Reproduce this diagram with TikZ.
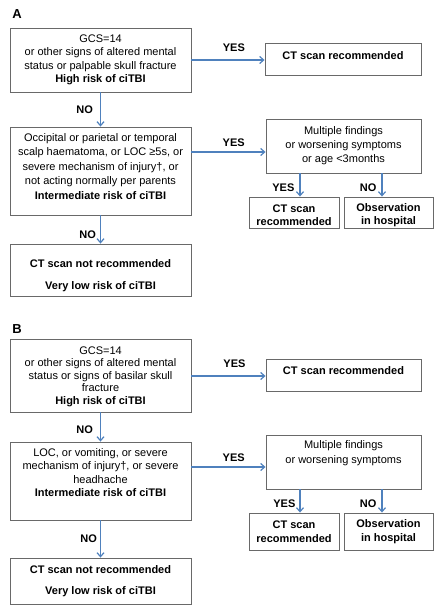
\documentclass[tikz,border=0pt]{standalone}
\usepackage{fontspec}
\setmainfont{Liberation Sans}
\usetikzlibrary{arrows.meta}
\definecolor{flowblue}{RGB}{79,129,189}
\definecolor{boxgray}{RGB}{105,105,105}
\begin{document}
\begin{tikzpicture}[x=1pt,y=-1pt,font=\fontsize{11}{13.5}\selectfont,
  box/.style={draw=boxgray,line width=.9pt,align=center,inner sep=0pt},
  sz/.style 2 args={minimum width=#1pt,minimum height=#2pt},
  arr/.style={draw=flowblue,line width=1.2pt,-{Straight Barb[length=4pt,width=7pt]}},
  lbl/.style={font=\fontsize{11}{13}\selectfont\bfseries,inner sep=0pt},
  panel/.style={font=\fontsize{13}{13}\selectfont\bfseries,inner sep=0pt}]
\useasboundingbox (0,0) rectangle (437,606);
% panel A
\node[panel] (pa) at (17,14) {A};
\node[box,sz={181}{64}] (a1) at (100.5,60) {GCS=14\\or other signs of altered mental\\status or palpable skull fracture\\\textbf{High risk of ciTBI}};
\node[box,sz={156}{32},text depth=7pt] (ar) at (343,59) {\textbf{CT scan recommended}};
\node[box,sz={181}{88},text depth=9pt,font=\fontsize{11}{14.5}\selectfont] (a2) at (100.5,171) {Occipital or parietal or temporal\\scalp haematoma, or LOC ≥5s, or\\severe mechanism of injury†, or\\not acting normally per parents\\\textbf{Intermediate risk of ciTBI}};
\node[box,sz={181}{52},text height=42pt] (a3) at (100.5,270) {\textbf{CT scan not recommended}\\[9pt]\textbf{Very low risk of ciTBI}};
\node[box,sz={155}{54},font=\fontsize{11}{14}\selectfont] (am) at (343.5,146) {Multiple findings\\or worsening symptoms\\or age <3months};
\node[box,sz={90}{31},text height=27pt,font=\fontsize{11}{13}\selectfont] (ay) at (294,212.5) {\textbf{CT scan}\\\textbf{recommended}};
\node[box,sz={89}{31},text height=27pt,font=\fontsize{11}{13}\selectfont] (an) at (388.5,212.5) {\textbf{Observation}\\\textbf{in hospital}};
\draw[arr] (a1.east) -- (a1.east -| ar.west) node[lbl,above=8pt,pos=.58] (ya1) {YES};
\draw[arr] (a1.south) -- (a2.north) node[lbl,left=7pt,pos=.5] (na1) {NO};
\draw[arr] ([yshift=19pt]a2.east) coordinate (pa2) -- (pa2 -| am.west) node[lbl,above=5pt,pos=.57] (ya2) {YES};
\draw[arr] (a2.south) -- (a3.north) node[lbl,left=4pt,pos=.68] (na2) {NO};
\draw[arr] ([xshift=6pt]ay.north |- am.south) -- ([xshift=6pt]ay.north) node[lbl,left=5pt,pos=.6] (ya3) {YES};
\draw[arr] ([xshift=-6.5pt]an.north |- am.south) -- ([xshift=-6.5pt]an.north) node[lbl,left=5pt,pos=.6] (na3) {NO};
% panel B
\node[panel] (pb) at (17,329) {B};
\node[box,sz={181}{73},text depth=0pt,font=\fontsize{11}{12.6}\selectfont] (b1) at (100.5,375.5) {GCS=14\\or other signs of altered mental\\status or signs of basilar skull\\fracture\\\textbf{High risk of ciTBI}};
\node[box,sz={155}{32},text depth=8pt] (br) at (343.5,375) {\textbf{CT scan recommended}};
\node[box,sz={181}{78},text depth=17pt,font=\fontsize{11}{13.2}\selectfont] (b2) at (100.5,481) {LOC, or vomiting, or severe\\mechanism of injury†, or severe\\headhache\\\textbf{Intermediate risk of ciTBI}};
\node[box,sz={181}{46}] (b3) at (100.5,581) {\textbf{CT scan not recommended}\\[8pt]\textbf{Very low risk of ciTBI}};
\node[box,sz={155}{54},text depth=20pt,font=\fontsize{11}{15.5}\selectfont] (bm) at (343.5,462) {Multiple findings\\or worsening symptoms};
\node[box,sz={90}{37},font=\fontsize{11}{14}\selectfont] (by) at (294,531.5) {\textbf{CT scan}\\\textbf{recommended}};
\node[box,sz={89}{37},font=\fontsize{11}{14}\selectfont] (bn) at (388.5,531.5) {\textbf{Observation}\\\textbf{in hospital}};
\draw[arr] ([yshift=-.5pt]b1.east) coordinate (pb1) -- (pb1 -| br.west) node[lbl,above=8pt,pos=.58] (yb1) {YES};
\draw[arr] (b1.south) -- (b2.north) node[lbl,left=7pt,pos=.58] (nb1) {NO};
\draw[arr] ([yshift=14pt]b2.east) coordinate (pb2) -- (pb2 -| bm.west) node[lbl,above=5pt,pos=.57] (yb2) {YES};
\draw[arr] (b2.south) -- (b3.north) node[lbl,left=3pt,pos=.5] (nb2) {NO};
\draw[arr] ([xshift=6pt]by.north |- bm.south) -- ([xshift=6pt]by.north) node[lbl,left=4pt,pos=.6] (yb3) {YES};
\draw[arr] ([xshift=-6.5pt]bn.north |- bm.south) -- ([xshift=-6.5pt]bn.north) node[lbl,left=5pt,pos=.6] (nb3) {NO};
\end{tikzpicture}
\end{document}
